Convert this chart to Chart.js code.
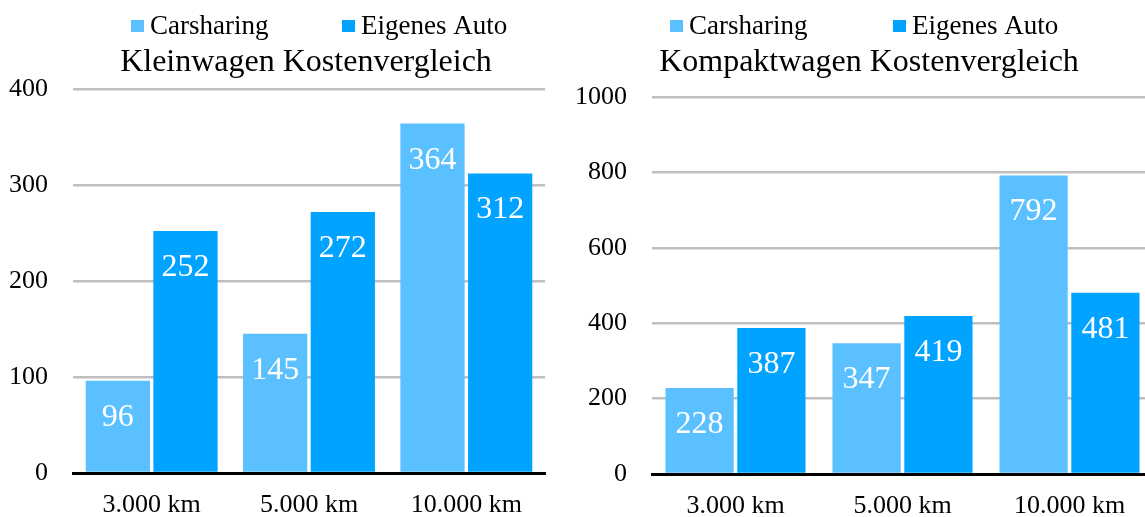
<!DOCTYPE html>
<html lang="de">
<head>
<meta charset="utf-8">
<title>Kostenvergleich Carsharing</title>
<script src="https://cdn.jsdelivr.net/npm/chart.js@4/dist/chart.umd.min.js"></script>
<style>
  html, body { margin: 0; padding: 0; background: #fff; overflow: hidden; width: 1145px; height: 517px; }
  canvas { position: absolute; top: 0; }
  #klein { left: 0; }
  #kompakt { left: 560px; }
</style>
</head>
<body>
<canvas id="klein" width="612" height="517"></canvas>
<canvas id="kompakt" width="618" height="517"></canvas>
<script>
// Kategorien (Jahresfahrleistung)
const categories = ['3.000 km', '5.000 km', '10.000 km'];
const seriesNames = ['Carsharing', 'Eigenes Auto'];

// Kleinwagen: monatliche Kosten
const kleinCarsharing = [96, 145, 364];
const kleinEigenes = [252, 272, 312];
const kleinTicks = [0, 100, 200, 300, 400];

// Kompaktwagen: monatliche Kosten
const kompaktCarsharing = [228, 347, 792];
const kompaktEigenes = [387, 419, 481];
const kompaktTicks = [0, 200, 400, 600, 800, 1000];

const FONT = '"Liberation Serif", "Times New Roman", serif';
const COLORS = ['#5BC0FF', '#00A3FF'];

// Legende und Titel oberhalb des Diagramms
const headerPlugin = {
  id: 'header',
  afterDraw(chart, args, opts) {
    const ctx = chart.ctx;
    ctx.save();
    ctx.fillStyle = '#000';
    ctx.textBaseline = 'alphabetic';
    ctx.font = '27px ' + FONT;
    ctx.textAlign = 'left';
    chart.data.datasets.forEach((ds, i) => {
      const x = opts.legendX[i];
      ctx.fillStyle = ds.backgroundColor;
      ctx.fillRect(x, 20, 13, 12);
      ctx.fillStyle = '#000';
      ctx.fillText(ds.label, x + 19, 34);
    });
    ctx.font = '32px ' + FONT;
    ctx.textAlign = 'center';
    ctx.fillText(opts.text, opts.titleX, 71);
    ctx.restore();
  }
};

// Wertbeschriftung innerhalb der Balken
const valueLabels = {
  id: 'valueLabels',
  afterDatasetsDraw(chart) {
    const ctx = chart.ctx;
    ctx.save();
    ctx.font = '32px ' + FONT;
    ctx.fillStyle = '#fff';
    ctx.textAlign = 'center';
    ctx.textBaseline = 'alphabetic';
    chart.data.datasets.forEach((ds, i) => {
      chart.getDatasetMeta(i).data.forEach((bar, j) => {
        ctx.fillText(String(ds.data[j]), bar.x, bar.y + 45);
      });
    });
    ctx.restore();
  }
};

function makeChart(id, title, cs, ea, ticks, layout) {
  const maxVal = ticks[ticks.length - 1];
  const step = ticks[1] - ticks[0];
  return new Chart(document.getElementById(id), {
    type: 'bar',
    data: {
      labels: categories,
      datasets: [
        { label: seriesNames[0], data: cs, backgroundColor: COLORS[0] },
        { label: seriesNames[1], data: ea, backgroundColor: COLORS[1] }
      ]
    },
    options: {
      responsive: false,
      animation: false,
      devicePixelRatio: 1,
      layout: { padding: { top: layout.top, right: layout.right, left: 0, bottom: 0 } },
      datasets: {
        bar: {
          categoryPercentage: 0.86,
          barPercentage: 0.95,
          borderWidth: 0
        }
      },
      plugins: {
        legend: { display: false },
        title: { display: false },
        tooltip: { enabled: false },
        header: { text: title, titleX: layout.titleX, legendX: layout.legendX }
      },
      scales: {
        x: {
          z: 1,
          grid: { display: false, drawTicks: false },
          border: { display: true, color: '#000', width: 3 },
          ticks: { color: '#000', font: { family: FONT, size: 26 }, padding: 17, maxRotation: 0 },
          afterFit(scale) { scale.height = layout.xHeight; }
        },
        y: {
          min: 0,
          max: maxVal,
          afterBuildTicks(scale) { scale.ticks = ticks.map(v => ({ value: v })); },
          grid: { color: '#BFBFBF', lineWidth: 2.5, drawTicks: false },
          border: { display: false },
          ticks: {
            color: '#000',
            font: { family: FONT, size: 26 },
            padding: 25,
            stepSize: step,
            callback: v => String(v)
          },
          afterFit(scale) { scale.width = layout.yWidth; }
        }
      }
    },
    plugins: [headerPlugin, valueLabels]
  });
}

makeChart('klein', 'Kleinwagen Kostenvergleich', kleinCarsharing, kleinEigenes, kleinTicks,
  { top: 89, right: 67, yWidth: 73, xHeight: 44, titleX: 306, legendX: [131, 342] });
makeChart('kompakt', 'Kompaktwagen Kostenvergleich', kompaktCarsharing, kompaktEigenes, kompaktTicks,
  { top: 97, right: 25, yWidth: 92, xHeight: 43, titleX: 309, legendX: [110, 333] });
</script>
</body>
</html>
